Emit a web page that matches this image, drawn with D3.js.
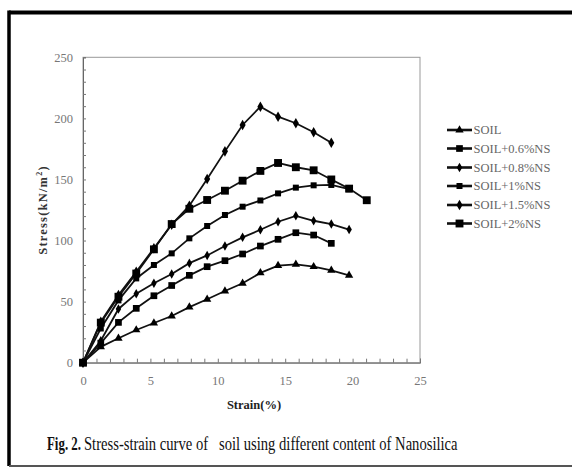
<!DOCTYPE html>
<html><head><meta charset="utf-8">
<script src="https://cdn.jsdelivr.net/npm/d3@7"></script>
<style>body{margin:0;background:#fff}svg{display:block}</style>
</head><body>
<svg id="c" width="572" height="468"></svg>
<script>
// ---- data ----
const strain = [0, 1.32, 2.63, 3.95, 5.26, 6.58, 7.89, 9.21, 10.53, 11.84, 13.16, 14.47, 15.79, 17.11, 18.42, 19.74, 21.05];
const soil   = [0, 13, 20, 26.8, 32.5, 38.2, 45.5, 51.9, 58.7, 65, 73.5, 79.5, 80.5, 78.6, 75.6, 71.5];
const ns06   = [0, 16, 33, 44.5, 54.8, 63.2, 71.5, 78.6, 83.5, 89, 95.5, 101, 106.4, 104.5, 97.7];
const ns08   = [0, 18, 44, 56.5, 65, 72.6, 81.5, 87.8, 95.5, 102.6, 108.8, 115.4, 120.2, 116.2, 113.5, 109];
const ns1    = [0, 28, 51, 69, 80, 89.5, 101.8, 111.9, 120.9, 127.7, 132.8, 138.6, 143.3, 145.2, 145.5, 142];
const ns15   = [0, 33.6, 55.4, 74.5, 93.6, 113, 128.5, 150.3, 173, 194.6, 209.6, 201.4, 196, 188.6, 180];
const ns2    = [0, 32.8, 54, 73, 92.8, 113.5, 126, 133.2, 140.8, 149, 157, 163.5, 160, 157.5, 150, 142.5, 133];
const seriesNames = ["SOIL", "SOIL+0.6%NS", "SOIL+0.8%NS", "SOIL+1%NS", "SOIL+1.5%NS", "SOIL+2%NS"];
const xTicks = [0, 5, 10, 15, 20, 25];
const yTicks = [0, 50, 100, 150, 200, 250];

const series = [
  {name: seriesNames[0], vals: soil, sym: d3.symbolTriangle, size: 30},
  {name: seriesNames[1], vals: ns06, sym: d3.symbolSquare, size: 45},
  {name: seriesNames[2], vals: ns08, sym: d3.symbolDiamond, size: 26},
  {name: seriesNames[3], vals: ns1,  sym: d3.symbolSquare, size: 36},
  {name: seriesNames[4], vals: ns15, sym: d3.symbolDiamond, size: 32},
  {name: seriesNames[5], vals: ns2,  sym: d3.symbolSquare, size: 62}
];

const svg = d3.select("#c");
const serif = "'Liberation Serif','DejaVu Serif',serif";

// outer figure frame
svg.append("line").attr("x1",9).attr("x2",572).attr("y1",12.5).attr("y2",12.5).attr("stroke","#000").attr("stroke-width",4);
svg.append("line").attr("x1",9).attr("x2",9).attr("y1",10.5).attr("y2",466).attr("stroke","#000").attr("stroke-width",3.5);
svg.append("line").attr("x1",9).attr("x2",572).attr("y1",466).attr("y2",466).attr("stroke","#555").attr("stroke-width",2);

const x = d3.scaleLinear().domain([0,25]).range([83,420]);
const y = d3.scaleLinear().domain([0,250]).range([362.7,57.3]);

// plot box
svg.append("rect").attr("x",x(0)).attr("y",y(250)).attr("width",x(25)-x(0)).attr("height",y(0)-y(250))
  .attr("fill","none").attr("stroke","#999").attr("stroke-width",1);

// minor ticks
const gx = svg.append("g").attr("transform",`translate(0,${y(0)})`)
  .call(d3.axisBottom(x).tickValues(d3.range(0,26,1)).tickSize(-4).tickFormat(""));
gx.select(".domain").attr("stroke","#666");
gx.selectAll(".tick line").attr("stroke","#777");
const gy = svg.append("g").attr("transform",`translate(${x(0)},0)`)
  .call(d3.axisLeft(y).tickValues(d3.range(0,251,10)).tickSize(-3).tickFormat(""));
gy.select(".domain").attr("stroke","#666");
gy.selectAll(".tick line").attr("stroke","#777");

// tick labels
const gxl = svg.append("g").attr("transform",`translate(0,${y(0)})`)
  .call(d3.axisBottom(x).tickValues(xTicks).tickSize(0).tickPadding(13));
gxl.select(".domain").remove();
gxl.selectAll("text").attr("font-family",serif).attr("font-size",12.5).attr("fill","#777");
const gyl = svg.append("g").attr("transform",`translate(${x(0)},0)`)
  .call(d3.axisLeft(y).tickValues(yTicks).tickSize(0).tickPadding(10));
gyl.select(".domain").remove();
gyl.selectAll("text").attr("font-family",serif).attr("font-size",12.5).attr("fill","#777");

// axis titles
svg.append("text").attr("x",254).attr("y",409).attr("text-anchor","middle")
  .attr("font-family",serif).attr("font-weight","bold").attr("font-size",12.5).attr("fill","#222").text("Strain(%)");
const yt = svg.append("text").attr("transform","translate(47,210) rotate(-90)").attr("text-anchor","middle")
  .attr("font-family",serif).attr("font-weight","bold").attr("font-size",12.5).attr("fill","#333")
  .attr("letter-spacing","1.2px");
yt.append("tspan").text("Stress(kN/m");
yt.append("tspan").attr("font-size",8).attr("dy",-5).text("2");
yt.append("tspan").attr("dy",5).text(")");

// series
const line = d3.line().x((d,i)=>x(strain[i])).y(d=>y(d));
const plot = svg.append("g");
series.forEach(s=>{
  plot.append("path").attr("d",line(s.vals)).attr("fill","none").attr("stroke","#111").attr("stroke-width",1.8);
});
series.forEach(s=>{
  plot.selectAll(null).data(s.vals).enter().append("path")
    .attr("d",d3.symbol().type(s.sym).size(s.size))
    .attr("transform",(d,i)=>`translate(${x(strain[i])},${y(d)})`)
    .attr("fill","#000");
});

// legend
const lg = svg.append("g");
const rows = [130, 148.5, 167.5, 186, 205, 223.5];
series.forEach((s,i)=>{
  lg.append("line").attr("x1",447).attr("x2",472).attr("y1",rows[i]).attr("y2",rows[i]).attr("stroke","#111").attr("stroke-width",2.6);
  lg.append("path").attr("d",d3.symbol().type(s.sym).size(s.size)).attr("transform",`translate(459.5,${rows[i]})`).attr("fill","#000");
  lg.append("text").attr("x",473.5).attr("y",rows[i]+4.3).attr("font-family",serif).attr("font-size",12.5)
    .attr("fill","#666").text(s.name);
});

// caption: condensed by horizontal scaling so the real boxes match what is drawn
function condensed(txt, x0, w, bold){
  const g = svg.append("g");
  const t = g.append("text").attr("x",0).attr("y",0).attr("font-family",serif).attr("font-size",18)
    .attr("fill","#111").attr("font-weight",bold?"bold":"normal").text(txt);
  const nat = t.node().getComputedTextLength();
  g.attr("transform",`translate(${x0},450) scale(${w/nat},1)`);
}
condensed("Fig. 2.", 47, 34, true);
condensed("Stress-strain curve of \u00a0 soil using different content of Nanosilica", 84, 374, false);
</script>
</body></html>
